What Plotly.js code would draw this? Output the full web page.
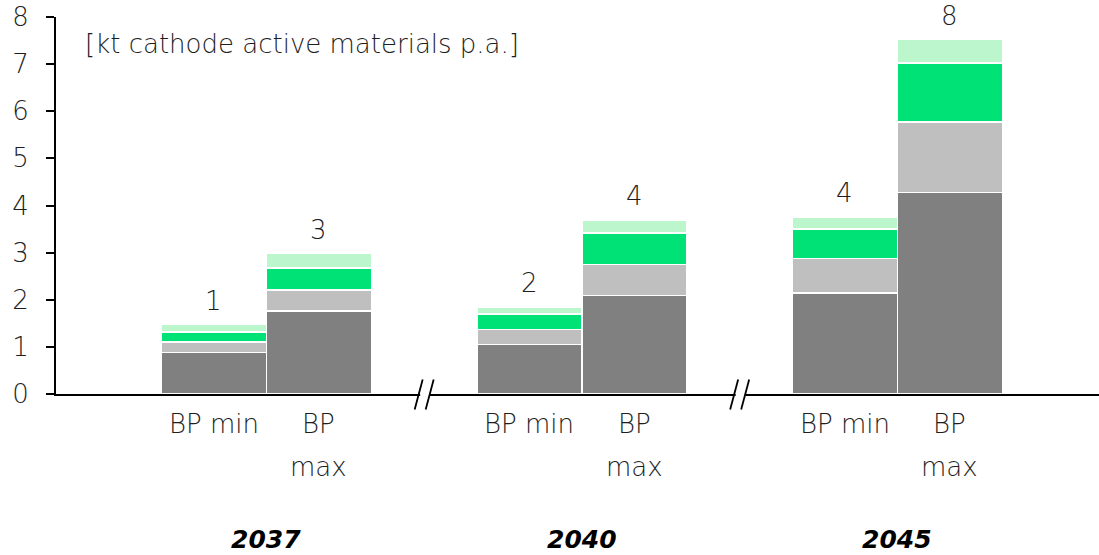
<!DOCTYPE html>
<html>
<head>
<meta charset="utf-8">
<script src="https://cdn.plot.ly/plotly-3.0.1.min.js"></script>
<style>
  html, body { margin: 0; padding: 0; background: #ffffff; }
  #chart { width: 1099px; height: 555px; }
</style>
</head>
<body>
<div id="chart"></div>
<script>
// Cathode active material demand per scenario and year (kt p.a.)
const years = ["2037", "2040", "2045"];
const scenarioLines = [["BP min"], ["BP", "max"]];
const yTicks = [0, 1, 2, 3, 4, 5, 6, 7, 8];

// One value per bar, ordered 2037 min, 2037 max, 2040 min, 2040 max, 2045 min, 2045 max
const seriesDark  = [0.88, 1.76, 1.05, 2.09, 2.14, 4.28];
const seriesGrey  = [0.22, 0.45, 0.32, 0.66, 0.74, 1.49];
const seriesGreen = [0.22, 0.46, 0.33, 0.67, 0.62, 1.25];
const seriesLight = [0.15, 0.31, 0.14, 0.27, 0.25, 0.50];

const colors = ["#808080", "#bfbfbf", "#00e176", "#bbf6cc"];
const FONT = "DejaVu Sans, Liberation Sans, sans-serif";
const TEXT = "#1e1e1e";

// plot geometry
const W = 1099, H = 555;
const M = { l: 56, r: 0, t: 17, b: 161 };
const xRange = [-0.667, 2.639];
const plotW = W - M.l - M.r;
const toPaperX = v => (v - xRange[0]) / (xRange[1] - xRange[0]);
const pxX = px => px / plotW * (xRange[1] - xRange[0]);   // pixel width -> x units
const plotH = H - M.t - M.b;
const pxY = px => px / plotH;                              // pixel height -> paper units

// bar positions: group index +/- half a bar width
const barW = 0.333;
const xPos = [];
const xLines = [];
years.forEach((y, g) => {
  scenarioLines.forEach((lines, k) => {
    xPos.push(g + (k === 0 ? -barW / 2 : barW / 2));
    xLines.push(lines);
  });
});

const stack = [seriesDark, seriesGrey, seriesGreen, seriesLight];
const traces = stack.map((vals, i) => ({
  type: "bar",
  x: xPos,
  y: vals,
  width: barW,
  marker: { color: colors[i], line: { color: "#ffffff", width: 1.5 } },
  hoverinfo: "y",
  showlegend: false
}));

const totals = xPos.map((_, j) => stack.reduce((s, v) => s + v[j], 0));

const annotations = [];
// rounded totals above each bar
totals.forEach((t, j) => {
  annotations.push({
    x: xPos[j], y: t, xref: "x", yref: "y",
    text: String(Math.round(t)), showarrow: false,
    yanchor: "bottom", yshift: 7,
    font: { family: FONT, size: 26, color: TEXT, weight: 200 }
  });
});
// scenario labels under each bar, one line per row
xLines.forEach((lines, j) => {
  lines.forEach((line, r) => {
    annotations.push({
      x: xPos[j], y: 0, xref: "x", yref: "paper",
      text: line, showarrow: false, yanchor: "middle",
      yshift: -30 - r * 43,
      font: { family: FONT, size: 26, color: TEXT, weight: 200 }
    });
  });
});
// year labels under each group
years.forEach((y, g) => {
  annotations.push({
    x: g, y: 0, xref: "x", yref: "paper",
    text: "<b><i>" + y + "</i></b>", showarrow: false,
    yanchor: "middle", yshift: -145,
    font: { family: FONT, size: 25, color: "#000000" }
  });
});
// unit label
annotations.push({
  x: toPaperX(-0.667 + pxX(83 - 56)), y: 1 - pxY(44 - 17), xref: "paper", yref: "paper",
  xanchor: "left", yanchor: "middle",
  text: "[kt cathode active materials p.a.]", showarrow: false,
  font: { family: FONT, size: 26, color: TEXT, weight: 200 }
});

// axis break marks "//" between year groups
const shapes = [];
[0.5, 1.5].forEach(b => {
  shapes.push({
    type: "rect", xref: "paper", yref: "paper", layer: "above",
    x0: toPaperX(b - pxX(4)), x1: toPaperX(b + pxX(5)),
    y0: -pxY(3), y1: pxY(3),
    line: { width: 0 }, fillcolor: "#ffffff"
  });
  [-5.5, 5.5].forEach(off => {
    shapes.push({
      type: "line", xref: "paper", yref: "paper", layer: "above",
      x0: toPaperX(b + pxX(off - 4)), y0: -pxY(15.5),
      x1: toPaperX(b + pxX(off + 4)), y1: pxY(14.5),
      line: { color: "#000000", width: 1.8 }
    });
  });
});

const layout = {
  width: W, height: H,
  margin: M,
  paper_bgcolor: "#ffffff", plot_bgcolor: "#ffffff",
  barmode: "stack",
  font: { family: FONT, size: 26, color: TEXT, weight: 200 },
  xaxis: {
    range: xRange,
    showticklabels: false, ticks: "",
    showgrid: false, zeroline: false,
    showline: true, linecolor: "#000000", linewidth: 2,
    fixedrange: true
  },
  yaxis: {
    range: [0, 8.0001],
    tickmode: "array", tickvals: yTicks, ticktext: yTicks.map(String),
    ticks: "outside", ticklen: 8, tickwidth: 2, tickcolor: "#000000",
    ticklabelstandoff: 12,
    showline: true, linecolor: "#000000", linewidth: 2,
    showgrid: false, zeroline: false,
    tickfont: { family: FONT, size: 26, color: TEXT, weight: 200 },
    fixedrange: true
  },
  annotations: annotations,
  shapes: shapes
};

Plotly.newPlot("chart", traces, layout, { displayModeBar: false, staticPlot: true });
</script>
</body>
</html>
